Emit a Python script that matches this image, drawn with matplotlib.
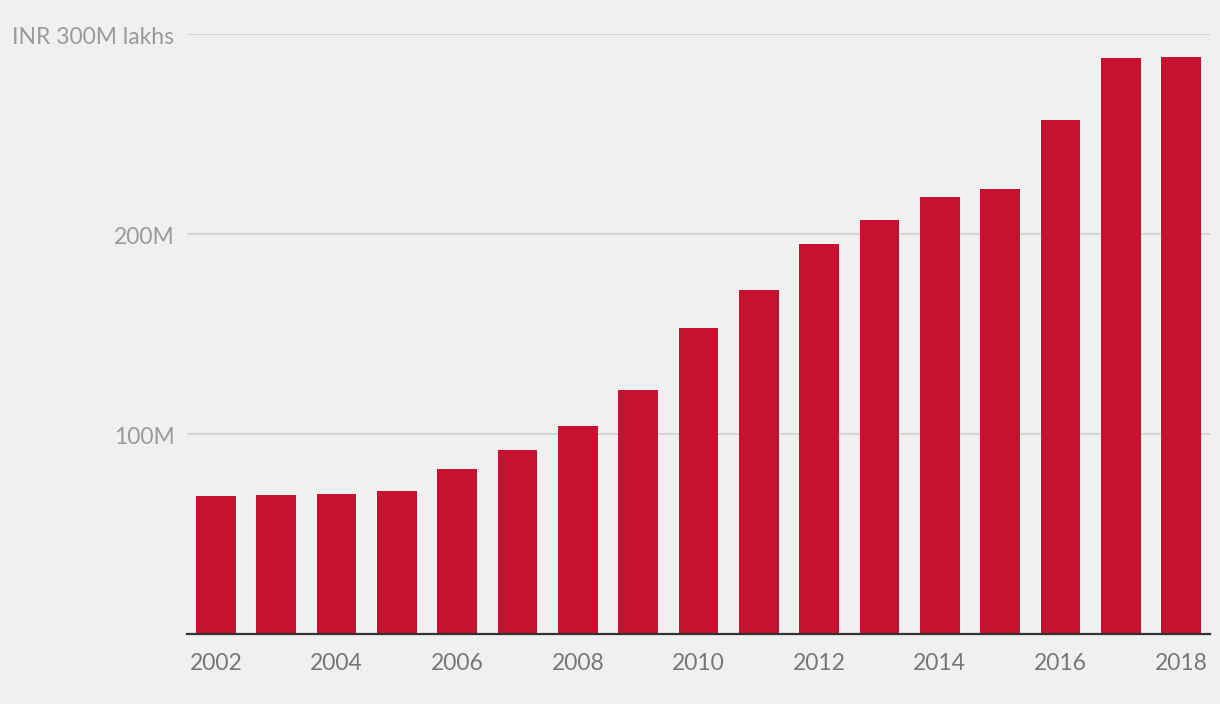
import numpy as np
import matplotlib.pyplot as plt
import matplotlib.transforms as mtransforms

years = list(range(2002, 2019))
values = [69, 69.5, 70, 71.5, 82.5, 92, 104, 122, 153, 172, 195, 207, 218.5, 222.5, 257, 288, 288.5]
ytick_vals = [100, 200, 300]
ytick_labels = ["100M", "200M", "INR 300M lakhs"]
xtick_vals = list(range(2002, 2019, 2))

plt.rcParams['font.family'] = ['Lato', 'DejaVu Sans']

fig = plt.figure(figsize=(12.2, 7.04), dpi=100, facecolor='#f0f0f0')
ax = fig.add_axes([187 / 1220, 1 - 634 / 704, (1210 - 187) / 1220, 600 / 704])
ax.set_facecolor('#f0f0f0')

ax.bar(years, values, width=0.66, color='#c41230', zorder=3)

ax.set_xlim(2001.52, 2018.48)
ax.set_ylim(0, 300)

ax.set_yticks(ytick_vals)
ax.set_yticklabels(ytick_labels)
ax.set_xticks(xtick_vals)
ax.set_xticklabels([str(y) for y in xtick_vals])

ax.grid(axis='y', color='#d6d6d6', linewidth=1.5, zorder=0)
for s in ['top', 'right', 'left']:
    ax.spines[s].set_visible(False)
ax.spines['bottom'].set_color('#333333')
ax.spines['bottom'].set_linewidth(1.6)
ax.spines['bottom'].set_zorder(4)

ax.tick_params(axis='y', length=0, pad=9, labelsize=16.5, labelcolor='#9a9a9a')
ax.tick_params(axis='x', length=0, pad=14, labelsize=16.5, labelcolor='#777777')

# nudge y labels down a couple of pixels
shift = mtransforms.ScaledTranslation(0, -2 / 100, fig.dpi_scale_trans)
for lbl in ax.get_yticklabels():
    lbl.set_transform(lbl.get_transform() + shift)

fig.savefig('out.png', dpi=100, facecolor=fig.get_facecolor())
